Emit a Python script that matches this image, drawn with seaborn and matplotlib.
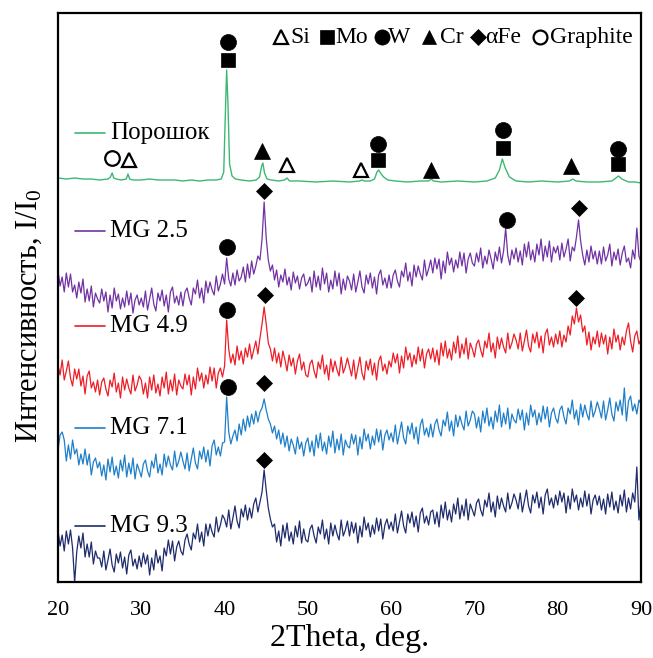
import numpy as np
import matplotlib
matplotlib.use("Agg")
import matplotlib.pyplot as plt
import seaborn as sns

sns.set_theme(style="white")
plt.rcParams['font.family'] = ['Liberation Serif', 'DejaVu Serif']
plt.rcParams['mathtext.fontset'] = 'custom'
plt.rcParams['mathtext.rm'] = 'Liberation Serif'
plt.rcParams['mathtext.it'] = 'Liberation Serif:italic'

# ---------------- data ----------------
theta_start, theta_step, n_points = 20.0, 0.25, 281
theta = np.round(theta_start + theta_step * np.arange(n_points), 2)

powder_theta = [20, 21, 22, 23, 24, 25, 26, 26.3, 26.5, 26.7, 27, 27.6, 28.2, 28.4, 28.6, 29, 30, 31, 32, 33,
                34, 35, 36, 37, 38, 39, 39.6, 39.9, 40.1, 40.25, 40.4, 40.6, 40.9, 41.3, 42, 43, 43.8, 44.2,
                44.45, 44.6, 44.8, 45.1, 45.6, 46.5, 47.2, 47.5, 47.8, 49, 51, 53, 55, 56.2, 56.5, 56.8, 57.5,
                58.0, 58.3, 58.5, 58.8, 59.1, 59.6, 60.5, 62, 63.5, 64.5, 64.8, 65.1, 66, 68, 70, 71.5, 72.5,
                73.0, 73.35, 73.7, 74.2, 75, 76.5, 78, 80, 81.4, 81.8, 82.2, 83.5, 85, 86.5, 87.0, 87.3, 87.7,
                88.5, 89.3, 90]
powder_int = [404, 403, 404, 403, 403, 402, 403, 405, 409, 404, 403, 402, 403, 408, 403, 402, 402, 403, 402, 402,
              402, 401, 402, 401, 402, 402, 403, 410, 470, 512, 480, 418, 406, 403, 402, 401, 402, 405,
              416, 419, 409, 403, 402, 401, 402, 404, 401, 401, 400, 401, 400, 401, 402, 401, 401,
              403, 410, 412, 408, 405, 402, 401, 400, 401, 401, 403, 401, 400, 401, 400, 401, 404,
              412, 423, 414, 405, 401, 400, 401, 400, 401, 403, 401, 400, 400, 401, 404, 406, 403,
              400, 400, 399]

mg25 = [311, 296, 305, 290, 309, 295, 308, 290, 297, 284, 300, 289, 303, 280, 293, 281, 296, 275, 289, 283,
        279, 293, 281, 290, 270, 287, 274, 294, 281, 288, 273, 284, 275, 291, 277, 289, 269, 282, 287, 277,
        284, 275, 291, 272, 283, 294, 278, 271, 289, 281, 292, 276, 287, 270, 290, 295, 279, 286, 277, 290,
        276, 290, 294, 284, 277, 294, 288, 302, 284, 294, 279, 301, 289, 300, 292, 287, 306, 291, 298, 308,
        298, 324, 303, 296, 309, 297, 312, 301, 305, 315, 300, 318, 304, 321, 308, 316, 326, 322, 343, 380,
        344, 322, 311, 317, 302, 312, 295, 307, 300, 313, 297, 305, 292, 310, 299, 306, 293, 304, 308, 296,
        299, 305, 290, 311, 295, 306, 292, 314, 298, 309, 290, 302, 293, 311, 296, 309, 288, 303, 292, 306,
        301, 292, 308, 290, 300, 311, 295, 289, 307, 298, 309, 294, 305, 288, 307, 312, 297, 304, 294, 307,
        294, 307, 312, 301, 295, 311, 305, 319, 301, 310, 296, 317, 305, 316, 308, 302, 322, 306, 313, 322,
        309, 324, 313, 323, 303, 321, 309, 330, 317, 324, 310, 322, 314, 330, 316, 329, 309, 323, 329, 319,
        316, 329, 320, 334, 314, 326, 318, 332, 323, 313, 330, 321, 335, 319, 331, 354, 327, 317, 332, 323,
        334, 320, 331, 317, 338, 325, 340, 322, 332, 320, 338, 327, 343, 321, 336, 325, 341, 320, 335, 329,
        336, 322, 339, 325, 333, 343, 321, 335, 331, 345, 362, 341, 327, 317, 332, 320, 336, 323, 331, 318,
        331, 318, 335, 321, 327, 338, 316, 330, 322, 333, 317, 329, 336, 320, 324, 314, 332, 323, 354, 326, 320]

mg49 = [217, 207, 222, 202, 211, 221, 204, 196, 213, 203, 213, 196, 206, 188, 206, 211, 194, 200, 190, 202,
        187, 200, 204, 193, 186, 202, 195, 209, 190, 199, 184, 205, 192, 203, 194, 188, 207, 191, 197, 206,
        202, 188, 199, 184, 205, 192, 207, 189, 198, 186, 205, 194, 210, 188, 202, 191, 208, 187, 202, 196,
        193, 208, 197, 207, 187, 205, 193, 214, 201, 209, 194, 207, 198, 215, 201, 214, 194, 209, 214, 205,
        216, 262, 233, 219, 228, 217, 236, 222, 231, 218, 234, 225, 238, 223, 232, 241, 228, 244, 258, 275,
        258, 239, 233, 221, 234, 219, 229, 215, 231, 222, 211, 227, 216, 224, 208, 221, 228, 212, 220, 207,
        205, 218, 222, 211, 204, 220, 213, 227, 208, 217, 202, 223, 210, 221, 212, 206, 225, 209, 215, 224,
        215, 206, 222, 203, 214, 225, 209, 202, 221, 212, 223, 207, 219, 202, 221, 226, 211, 218, 208, 221,
        215, 229, 219, 228, 209, 226, 214, 235, 222, 229, 215, 227, 218, 235, 221, 233, 214, 228, 233, 223,
        234, 220, 232, 217, 239, 226, 241, 224, 233, 222, 240, 229, 246, 224, 238, 228, 244, 223, 239, 233,
        225, 238, 242, 232, 225, 241, 234, 249, 230, 239, 224, 245, 233, 244, 235, 229, 249, 233, 239, 248,
        242, 233, 249, 231, 241, 252, 236, 230, 248, 239, 250, 234, 246, 229, 248, 253, 237, 245, 235, 248,
        238, 251, 235, 247, 240, 256, 247, 266, 258, 274, 260, 267, 250, 256, 237, 250, 232, 245, 238, 251,
        235, 249, 238, 247, 228, 245, 233, 253, 240, 247, 232, 245, 237, 251, 259, 241, 230, 246, 251, 238, 243]

mg71 = [132, 147, 150, 142, 121, 137, 123, 142, 128, 133, 117, 128, 118, 133, 117, 128, 107, 120, 124, 114,
        120, 106, 117, 102, 123, 110, 125, 107, 116, 104, 122, 111, 127, 105, 119, 108, 124, 103, 118, 112,
        105, 118, 122, 111, 105, 121, 114, 128, 109, 118, 107, 128, 115, 126, 117, 112, 131, 115, 121, 130,
        121, 113, 129, 111, 123, 134, 119, 113, 131, 123, 135, 120, 132, 116, 136, 142, 127, 135, 126, 139,
        140, 185, 150, 138, 146, 152, 141, 158, 147, 163, 151, 166, 155, 168, 158, 171, 160, 170, 174, 183,
        172, 163, 158, 149, 156, 143, 152, 138, 149, 135, 146, 131, 143, 137, 128, 145, 133, 140, 126, 139,
        144, 130, 141, 126, 147, 134, 149, 131, 140, 128, 146, 135, 151, 129, 143, 132, 148, 127, 142, 136,
        134, 148, 138, 147, 127, 145, 133, 153, 141, 148, 133, 146, 137, 153, 140, 152, 132, 147, 152, 142,
        149, 140, 157, 138, 149, 160, 144, 138, 156, 148, 159, 143, 155, 138, 157, 163, 147, 154, 145, 158,
        145, 158, 163, 152, 146, 162, 156, 170, 151, 161, 146, 167, 155, 166, 158, 152, 171, 156, 162, 171,
        168, 154, 165, 150, 171, 159, 174, 156, 165, 153, 171, 160, 177, 155, 169, 158, 174, 153, 168, 162,
        159, 173, 162, 172, 152, 169, 157, 177, 165, 172, 157, 169, 160, 176, 163, 175, 155, 169, 174, 164,
        159, 172, 176, 165, 158, 174, 168, 182, 163, 172, 157, 178, 165, 177, 168, 162, 181, 165, 171, 180,
        173, 164, 181, 162, 172, 184, 168, 161, 180, 171, 182, 167, 194, 161, 181, 186, 171, 178, 168, 182, 178]

mg93 = [51, 36, 47, 31, 51, 38, 52, 34, 0, 30, 46, 34, 49, 25, 38, 25, 40, 18, 31, 24,
        24, 15, 31, 12, 22, 33, 17, 10, 28, 19, 30, 14, 25, 8, 27, 32, 16, 23, 13, 26,
        15, 29, 18, 27, 7, 24, 12, 32, 19, 26, 11, 34, 26, 42, 28, 41, 21, 35, 41, 31,
        27, 42, 48, 38, 32, 49, 43, 58, 40, 50, 36, 58, 46, 58, 50, 45, 65, 50, 57, 67,
        63, 55, 72, 53, 64, 76, 61, 54, 73, 65, 77, 62, 74, 64, 78, 84, 70, 80, 90, 112,
        92, 74, 63, 55, 58, 40, 51, 36, 57, 44, 59, 41, 50, 38, 56, 45, 61, 39, 53, 42,
        40, 53, 57, 46, 39, 55, 48, 62, 43, 53, 38, 59, 46, 57, 48, 42, 62, 46, 52, 61,
        46, 60, 49, 59, 39, 56, 45, 65, 52, 59, 45, 57, 48, 64, 51, 63, 43, 57, 63, 53,
        60, 51, 68, 49, 60, 71, 56, 49, 68, 59, 70, 55, 66, 50, 69, 74, 59, 66, 57, 70,
        72, 58, 70, 55, 77, 64, 80, 62, 72, 60, 78, 68, 84, 63, 77, 66, 83, 62, 78, 72,
        66, 79, 83, 72, 66, 82, 75, 89, 70, 80, 65, 86, 73, 84, 76, 70, 89, 73, 79, 88,
        82, 73, 89, 70, 81, 92, 76, 69, 87, 79, 90, 74, 85, 68, 87, 93, 77, 84, 74, 87,
        77, 91, 80, 89, 69, 86, 73, 93, 80, 87, 72, 84, 75, 91, 76, 88, 68, 82, 87, 77,
        86, 72, 83, 68, 88, 75, 90, 72, 81, 69, 87, 76, 92, 70, 84, 73, 89, 80, 115, 62, 80]

series_names = ["Порошок", "MG 2.5", "MG 4.9", "MG 7.1", "MG 9.3"]
series_label_height = [449, 351, 256, 154, 56]

# phase markers: phase, 2theta, height
marker_phase = ["Graphite", "Si", "W", "Mo", "Cr", "Si", "Si", "W", "Mo", "Cr", "W", "Mo", "Cr", "W", "Mo",
                "aFe", "W", "W", "aFe",
                "W", "aFe", "aFe",
                "W", "aFe",
                "aFe"]
marker_theta = [26.5, 28.5, 40.4, 40.4, 44.5, 47.5, 56.4, 58.4, 58.4, 64.8, 73.4, 73.4, 81.6, 87.2, 87.2,
                44.7, 40.3, 73.9, 82.5,
                40.3, 44.8, 82.2,
                40.4, 44.7,
                44.7]
marker_height = [424, 422, 540, 522, 431, 417, 412, 438, 422, 412, 452, 434, 416, 433, 418,
                 391, 335, 362, 374,
                 272, 287, 284,
                 195, 199,
                 122]

key_phase = ["Si", "Mo", "W", "Cr", "aFe", "Graphite"]
key_text = ["Si", "Mo", "W", "Cr", "αFe", "Graphite"]
key_theta = [46.77, 52.3, 58.9, 64.5, 70.4, 77.85]
key_text_theta = [47.85, 53.25, 59.6, 65.85, 71.25, 79.05]

for arr in (mg25, mg49, mg71, mg93):
    assert len(arr) == n_points, len(arr)
assert len(powder_theta) == len(powder_int)

# ---------------- styles ----------------
colors = ["#3DB873", "#7133A3", "#EE1D26", "#1F7FC9", "#1F2C6C"]
phase_style = {
    "Si": dict(marker="^", facecolor="white", edgecolor="black", size=10.5, lw=1.6),
    "Mo": dict(marker="s", facecolor="black", edgecolor="black", size=10.5, lw=0.5),
    "W": dict(marker="o", facecolor="black", edgecolor="black", size=11.5, lw=0.5),
    "Cr": dict(marker="^", facecolor="black", edgecolor="black", size=11, lw=0.5),
    "aFe": dict(marker="D", facecolor="black", edgecolor="black", size=8.5, lw=0.5),
    "Graphite": dict(marker="o", facecolor="white", edgecolor="black", size=10.5, lw=1.6),
}

W, H = 653, 658
fig = plt.figure(figsize=(W / 100, H / 100), dpi=100)
ax = fig.add_axes([58 / W, 1 - 582 / H, 583 / W, 569 / H])

sns.lineplot(x=powder_theta, y=powder_int, color=colors[0], lw=1.0, ax=ax, sort=False)
for arr, c in zip((mg25, mg49, mg71, mg93), colors[1:]):
    sns.lineplot(x=theta, y=arr, color=c, lw=0.9, ax=ax, sort=False)

ax.set_xlim(20, 90)
ax.set_ylim(0, 569)

# phase markers
for ph, t, h in zip(marker_phase, marker_theta, marker_height):
    st = phase_style[ph]
    ax.plot(t, h, linestyle="none", marker=st["marker"], markersize=st["size"],
            markerfacecolor=st["facecolor"], markeredgecolor=st["edgecolor"],
            markeredgewidth=st["lw"], zorder=5, clip_on=False)

# key at the top
key_h = 545
for ph, txt, t, tt in zip(key_phase, key_text, key_theta, key_text_theta):
    st = phase_style[ph]
    ax.plot(t, key_h, linestyle="none", marker=st["marker"], markersize=st["size"] * 0.95,
            markerfacecolor=st["facecolor"], markeredgecolor=st["edgecolor"],
            markeredgewidth=st["lw"], zorder=5)
    ax.text(tt, key_h, txt, fontsize=17, ha="left", va="center", color="black")

# series labels with line handles
for name, h, c in zip(series_names, series_label_height, colors):
    ax.plot([0.029, 0.081], [h, h], color=c, lw=1.2, transform=ax.get_yaxis_transform())
    ax.text(0.089, h, name, fontsize=18, ha="left", va="center", color="black",
            transform=ax.get_yaxis_transform())

ax.set_xticks([20, 30, 40, 50, 60, 70, 80, 90])
ax.set_yticks([])
ax.tick_params(axis="x", length=0, pad=14, labelsize=16, colors="black")
for s in ax.spines.values():
    s.set_visible(True)
    s.set_color("black")
    s.set_linewidth(1.6)

ax.set_xlabel("2Theta, deg.", fontsize=23, color="black", labelpad=2)
ax.set_ylabel("Интенсивность, I/I$_0$", fontsize=22, color="black")
ax.yaxis.set_label_coords(-0.024, 0.467)
ax.grid(False)

fig.savefig("out.png", dpi=100, facecolor="white")
